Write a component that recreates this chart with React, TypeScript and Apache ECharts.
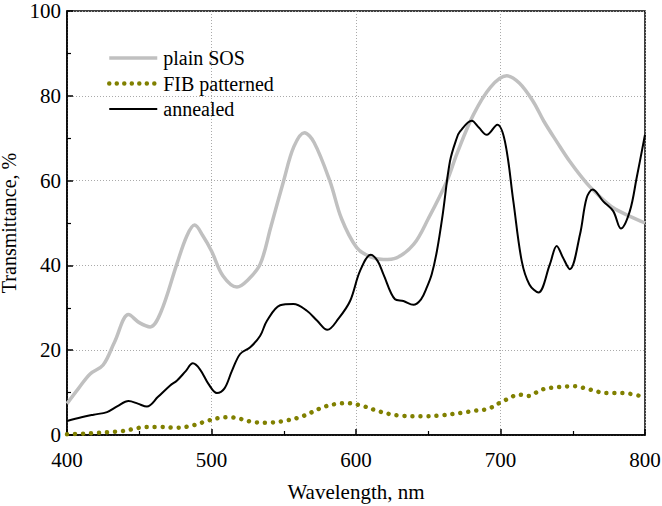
import React, { useEffect, useRef } from "react";
import * as echarts from "echarts";

const sosWl = [400, 408, 416, 425, 433, 442.6, 450, 457.6, 465, 476, 483, 488.3, 494, 500, 508, 517.6, 525, 533.7, 541, 549.8, 557, 564.3, 571, 582, 590, 600.5, 610, 619, 628, 640, 650, 662.8, 670, 681.2, 693, 704.3, 713, 722.7, 730, 738.9, 748, 759.6, 768, 778, 790, 800];
const sosT = [7.4, 11, 14.4, 16.5, 22, 28.4, 26.5, 25.5, 29, 40.3, 47, 49.5, 47, 43.4, 37.5, 34.9, 36.5, 40.3, 49, 59.8, 68, 71.3, 69, 59.8, 51, 44.2, 42, 41.4, 41.8, 45, 51, 59.8, 66.5, 75.5, 82, 84.7, 83, 78.6, 74, 69.2, 64.5, 59.4, 56.5, 53.6, 51.5, 50.0];

const annWl = [400, 410, 418.4, 427.7, 435, 442.6, 449, 455.3, 463, 471.4, 476, 482, 487.1, 492, 498, 503.7, 509, 514, 519.8, 526.8, 533.7, 538.3, 547.5, 556.7, 566, 573, 580.2, 588, 595.9, 602.8, 610.2, 615, 619, 627, 632.8, 639.7, 645, 649, 652.4, 656, 660, 665, 669.7, 672, 680.1, 685, 690.5, 697.8, 703.1, 708.9, 714.7, 720, 726.2, 734.2, 738.9, 743, 748, 755, 759.6, 763.8, 771.1, 778, 783.3, 789.5, 794.2, 800];
const annT = [3.3, 4.2, 4.8, 5.4, 6.8, 8.0, 7.4, 6.7, 9, 11.7, 12.8, 15, 16.9, 15.5, 12, 9.9, 11, 15, 19.1, 20.7, 23.4, 26.9, 30.6, 30.9, 29.3, 27, 24.8, 27.5, 31.6, 38.7, 42.5, 41, 37.9, 32.0, 31.6, 30.7, 32, 34.8, 37.9, 43.4, 52, 64.5, 70.0, 71.6, 74.1, 72.5, 70.8, 73.2, 69.2, 55.1, 41.0, 35.5, 33.6, 40.3, 44.6, 42, 39.1, 47.3, 55.9, 57.9, 55.1, 52.8, 48.7, 52.8, 60.6, 70.8];

const fibWl = [400, 410, 421.9, 430, 438, 446, 454, 464.5, 476, 487.5, 496.8, 505, 513, 520, 528, 538.3, 549.8, 561.3, 569, 577.5, 586, 594, 605.1, 613, 622.4, 630, 639.7, 648, 658.2, 674.3, 682, 691.6, 700.8, 713.5, 719.2, 728.5, 740, 751, 761.9, 773.4, 784.2, 800];
const fibT = [0.2, 0.3, 0.5, 0.7, 0.9, 1.4, 1.9, 1.9, 1.7, 2.3, 3.3, 4.0, 4.2, 3.8, 3.1, 2.9, 3.3, 4.2, 5.3, 6.6, 7.3, 7.5, 6.8, 5.9, 5.0, 4.6, 4.4, 4.4, 4.6, 5.3, 5.7, 6.2, 7.8, 9.5, 9.2, 10.7, 11.3, 11.5, 10.7, 9.9, 9.9, 8.9];

const seriesNames = ["plain SOS", "FIB patterned", "annealed"];
const xTicks = { min: 400, max: 800, step: 100 };
const yTicks = { min: 0, max: 100, step: 20 };

const FONT = "Liberation Serif";

const zip = (xs: number[], ys: number[]) => xs.map((x, i) => [x, ys[i]]);

export default function App() {
  const ref = useRef<HTMLDivElement>(null);
  useEffect(() => {
    if (!ref.current) return;
    const chart = echarts.init(ref.current, undefined, { renderer: "svg" });
    const splitLine = { show: true, lineStyle: { color: "#aaaaaa", width: 1, type: [1, 2] as any } };
    const sosLine = { color: "#c0c0c0", width: 3.5 };
    const fibLine = { color: "#808000", width: 4.5, type: [0.01, 8] as any, cap: "round" as any };
    const annLine = { color: "#000000", width: 2 };
    chart.setOption({
      animation: false,
      backgroundColor: "#ffffff",
      textStyle: { fontFamily: FONT },
      grid: {
        left: 67, right: 17, top: 11, bottom: 71,
        containLabel: false,
        outerBoundsMode: "none",
        show: true, borderColor: "#000", borderWidth: 1.5, backgroundColor: "transparent",
      } as any,
      legend: {
        orient: "vertical",
        left: 107,
        top: 48,
        padding: 0,
        itemWidth: 48,
        itemHeight: 20,
        itemGap: 5.5,
        itemStyle: { opacity: 0 },
        data: [
          { name: seriesNames[0], lineStyle: sosLine },
          { name: seriesNames[1], lineStyle: { ...fibLine, type: [0.01, 7.5] } },
          { name: seriesNames[2], lineStyle: annLine },
        ],
        textStyle: { fontFamily: FONT, fontSize: 20, color: "#000", padding: [0, 0, 0, 1] },
      },
      xAxis: {
        type: "value",
        min: xTicks.min, max: xTicks.max, interval: xTicks.step,
        name: "Wavelength, nm",
        nameLocation: "middle",
        nameGap: 46,
        nameTextStyle: { fontFamily: FONT, fontSize: 21, color: "#000" },
        axisLine: { show: true, onZero: false, lineStyle: { color: "#000", width: 1.5 } },
        axisTick: { show: true, inside: true, length: 6, lineStyle: { color: "#000", width: 1.5 } },
        minorTick: { show: true, splitNumber: 2, length: 4, lineStyle: { color: "#000", width: 1.2 } },
        axisLabel: { fontFamily: FONT, fontSize: 21, color: "#000", margin: 14 },
        splitLine,
      },
      yAxis: {
        type: "value",
        min: yTicks.min, max: yTicks.max, interval: yTicks.step,
        name: "Transmittance, %",
        nameLocation: "middle",
        nameGap: 41,
        nameTextStyle: { fontFamily: FONT, fontSize: 20, color: "#000" },
        axisLine: { show: true, lineStyle: { color: "#000", width: 1.5 } },
        axisTick: { show: true, inside: true, length: 6, lineStyle: { color: "#000", width: 1.5 } },
        minorTick: { show: true, splitNumber: 2, length: 4, lineStyle: { color: "#000", width: 1.2 } },
        axisLabel: { fontFamily: FONT, fontSize: 21, color: "#000", margin: 6 },
        splitLine,
      },
      series: [
        {
          name: seriesNames[0], type: "line", data: zip(sosWl, sosT), smooth: 0.35,
          showSymbol: false, symbol: "none",
          lineStyle: sosLine, itemStyle: { color: "#c0c0c0" }, z: 2,
        },
        {
          name: seriesNames[1], type: "line", data: zip(fibWl, fibT), smooth: 0.35,
          showSymbol: false, symbol: "none",
          lineStyle: fibLine, itemStyle: { color: "#808000" }, z: 3,
        },
        {
          name: seriesNames[2], type: "line", data: zip(annWl, annT), smooth: 0.35,
          showSymbol: false, symbol: "none",
          lineStyle: annLine, itemStyle: { color: "#000" }, z: 4,
        },
      ],
    });
    return () => chart.dispose();
  }, []);
  return <div ref={ref} style={{ width: 662, height: 506, position: "absolute", left: 0, top: 0 }} />;
}
